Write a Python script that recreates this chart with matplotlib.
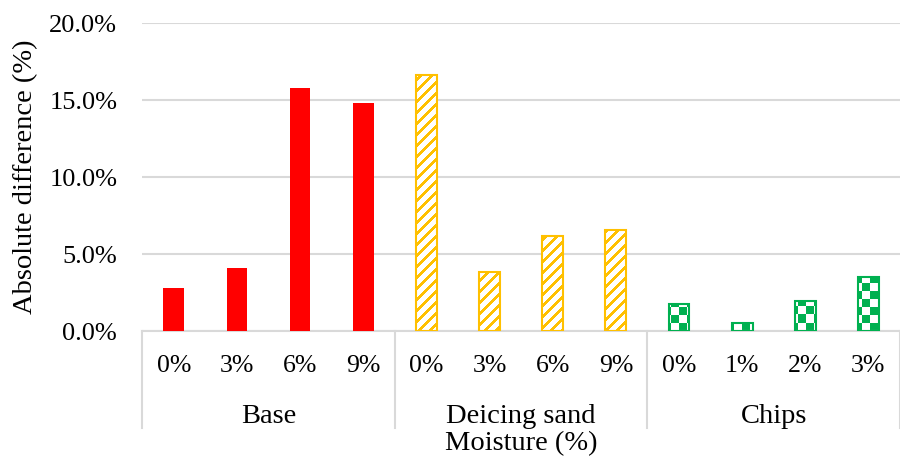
import numpy as np
import matplotlib.pyplot as plt
from matplotlib.colors import ListedColormap
from matplotlib.transforms import blended_transform_factory

plt.rcParams['font.family'] = ['Liberation Serif', 'DejaVu Serif']

# data
groups = ["Base", "Deicing sand", "Chips"]
moisture_labels = ["0%", "3%", "6%", "9%",
                   "0%", "3%", "6%", "9%",
                   "0%", "1%", "2%", "3%"]
base = [2.78, 4.08, 15.78, 14.8]
deicing = [16.62, 3.83, 6.17, 6.56]
chips = [1.75, 0.5, 1.95, 3.5]

red = "#FF0000"
gold = "#FFC000"
green = "#00B050"
grid_c = "#D9D9D9"

fig = plt.figure(figsize=(9, 4.58), dpi=100)
ax = fig.add_axes([0.158, 0.277, 0.842, 0.672])

x = np.arange(12)
w = 0.33

ax.bar(x[0:4], base, width=w, color=red, zorder=3)
sand_bars = ax.bar(x[4:8], deicing, width=w, color="none", edgecolor=gold,
                   linewidth=1.5, zorder=3)
chip_bars = ax.bar(x[8:12], chips, width=w, color="none", edgecolor=green,
                   linewidth=1.5, zorder=3)

# fill patterns, roughly one array cell per screen pixel of the axes
ny, nx = 308, 758
yy, xx = np.indices((ny, nx))
stripes = ((xx - yy) % 11 < 4).astype(int)
checker = ((yy // 8) + (xx // 8)) % 2


def pattern_fill(bars, pattern, color):
    cmap = ListedColormap(["white", color])
    for b in bars:
        im = ax.imshow(pattern, cmap=cmap, extent=(-0.5, 11.5, 0, 20),
                       origin="lower", interpolation="nearest",
                       aspect="auto", zorder=2)
        im.set_clip_path(b)


pattern_fill(sand_bars, stripes, gold)
pattern_fill(chip_bars, checker, green)

ax.set_xlim(-0.5, 11.5)
ax.set_ylim(0, 20)
ax.set_yticks([0, 5, 10, 15, 20])
ax.set_yticklabels(["0.0%", "5.0%", "10.0%", "15.0%", "20.0%"])
ax.yaxis.grid(True, color=grid_c, linewidth=1.5, zorder=0)
ax.set_axisbelow(True)

for s in ["top", "right", "left"]:
    ax.spines[s].set_visible(False)
ax.spines["bottom"].set_color(grid_c)
ax.spines["bottom"].set_linewidth(1.5)

ax.set_xticks(x)
ax.set_xticklabels(moisture_labels)
ax.tick_params(axis="x", length=0, pad=17, labelsize=18.5)
ax.tick_params(axis="y", length=0, pad=18, labelsize=19)

ax.set_ylabel("Absolute difference (%)", fontsize=20.5, labelpad=8)

# group separators and labels below the axis
trans = blended_transform_factory(ax.transData, ax.transAxes)
for sep in [-0.5, 3.5, 7.5, 11.5]:
    ax.plot([sep, sep], [0, -0.315], transform=trans, color=grid_c,
            linewidth=1.5, clip_on=False)
for i, g in enumerate(groups):
    ax.text(i * 4 + 1.5, -0.277, g, transform=trans, ha="center",
            va="center", fontsize=20.5)

ax.text(5.5, -0.366, "Moisture (%)", transform=trans, ha="center",
        va="center", fontsize=20.5)

fig.savefig("out.png", dpi=100)
